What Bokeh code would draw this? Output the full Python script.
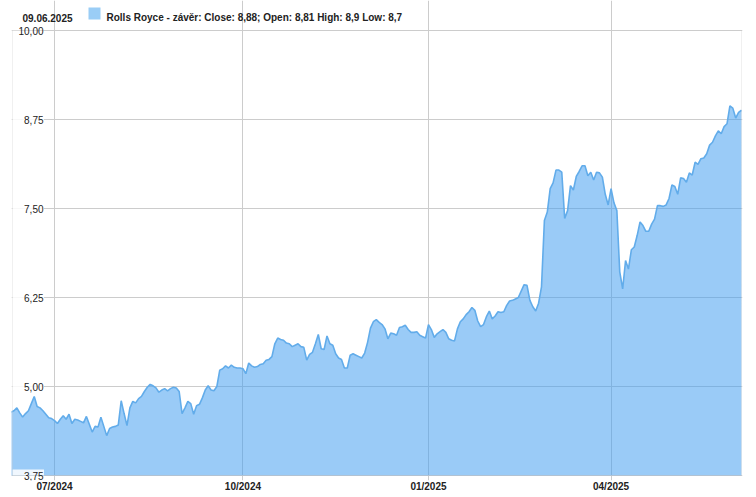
import numpy as np
import pandas as pd
from bokeh.plotting import figure
from bokeh.models import Range1d, FixedTicker, Grid, Label, BoxAnnotation, ColumnDataSource
from bokeh.embed import file_html
from bokeh.resources import INLINE

# ---- data -------------------------------------------------------------
holidays = ["2024-08-26", "2024-12-25", "2024-12-26", "2025-01-01",
            "2025-04-18", "2025-04-21", "2025-05-05", "2025-05-26"]

close = [
    4.64, 4.66, 4.70, 4.63, 4.57, 4.62, 4.66, 4.76, 4.86, 4.72,
    4.70, 4.66, 4.61, 4.56, 4.55, 4.52, 4.48, 4.54, 4.59, 4.54,
    4.61, 4.48, 4.54, 4.53, 4.51, 4.49, 4.58, 4.47, 4.36, 4.44,
    4.43, 4.57, 4.44, 4.31, 4.41, 4.43, 4.44, 4.46, 4.80, 4.62,
    4.45, 4.70, 4.79, 4.77, 4.83, 4.86, 4.93, 4.99, 5.03, 5.01,
    4.98, 4.92, 4.95, 4.97, 4.94, 4.97, 4.99, 4.98, 4.93, 4.62,
    4.70, 4.79, 4.76, 4.61, 4.73, 4.75, 4.84, 4.95, 5.01, 4.95,
    4.94, 5.00, 5.23, 5.25, 5.29, 5.26, 5.30, 5.27, 5.26, 5.26,
    5.25, 5.18, 5.33, 5.29, 5.27, 5.28, 5.31, 5.32, 5.37, 5.38,
    5.42, 5.60, 5.68, 5.66, 5.65, 5.61, 5.60, 5.56, 5.58, 5.60,
    5.56, 5.55, 5.37, 5.45, 5.48, 5.60, 5.73, 5.53, 5.52, 5.71,
    5.60, 5.58, 5.46, 5.40, 5.38, 5.26, 5.26, 5.44, 5.46, 5.44,
    5.42, 5.40, 5.47, 5.62, 5.82, 5.91, 5.94, 5.90, 5.87, 5.81,
    5.67, 5.75, 5.74, 5.72, 5.83, 5.84, 5.86, 5.80, 5.76, 5.76,
    5.77, 5.72, 5.70, 5.68, 5.87, 5.80, 5.69, 5.74, 5.77, 5.80,
    5.76, 5.67, 5.65, 5.64, 5.81, 5.91, 5.95, 6.01, 6.05, 6.11,
    6.07, 5.92, 5.84, 5.87, 5.98, 6.06, 5.95, 5.99, 6.05, 6.04,
    6.05, 6.14, 6.20, 6.21, 6.23, 6.25, 6.34, 6.43, 6.42, 6.21,
    6.12, 6.06, 6.17, 6.40, 7.33, 7.45, 7.78, 7.86, 8.04, 8.04,
    8.01, 7.36, 7.47, 7.82, 7.76, 7.95, 8.02, 8.10, 8.10, 7.96,
    8.01, 7.90, 8.01, 8.00, 7.94, 7.70, 7.55, 7.78, 7.58, 7.47,
    6.61, 6.37, 6.77, 6.65, 6.92, 6.96, 7.12, 7.31, 7.26, 7.18,
    7.18, 7.28, 7.35, 7.54, 7.54, 7.53, 7.55, 7.64, 7.83, 7.81,
    7.70, 7.93, 7.92, 7.87, 8.00, 7.97, 8.15, 8.12, 8.20, 8.21,
    8.27, 8.39, 8.43, 8.52, 8.59, 8.55, 8.65, 8.69, 8.94, 8.91,
    8.77, 8.85, 8.88,
]

y_ticks = [3.75, 5.0, 6.25, 7.5, 8.75, 10.0]
y_tick_labels = ["3,75", "5,00", "6,25", "7,50", "8,75", "10,00"]
x_tick_months = ["2024-07", "2024-10", "2025-01", "2025-04"]
x_tick_labels = ["07/2024", "10/2024", "01/2025", "04/2025"]
header_date = "09.06.2025"
series_label = "Rolls Royce - závěr: Close: 8,88; Open: 8,81 High: 8,9 Low: 8,7"

# ---- trading-day axis ---------------------------------------------------
days = pd.bdate_range("2024-06-10", "2025-06-09")
days = days[~days.isin(pd.to_datetime(holidays))]
n = min(len(days), len(close))
days = days[:n]
close = close[:n]
idx = list(range(n))
months = list(days.strftime("%Y-%m"))
tick_pos = [months.index(m) for m in x_tick_months]

# ---- layout constants ---------------------------------------------------
W, H = 750, 495
BL, BR, BT, BB = 11, 8, 0, 15
frame_w = W - BL - BR
frame_h = H - BT - BB
x_start, x_end = 0.5, n - 1                     # plotted data span
y_lo, y_hi = y_ticks[0], y_ticks[-1]
px_x = (frame_w - 2) / (x_end - x_start)        # 1px spare each side for the border
px_y = (frame_h - 30 - 5) / (y_hi - y_lo)       # 30px header room, 5px below
xr = Range1d(x_start - 1 / px_x, x_end + 1 / px_x)
yr = Range1d(y_lo - 5 / px_y, y_hi + 30 / px_y)

FONT = "Liberation Sans"
TXT = "#222222"
GRID = "#cccccc"
FILL = "#3d9cf0"
LINE = "#62acea"

p = figure(width=W, height=H, output_backend="svg", toolbar_location=None,
           x_range=xr, y_range=yr, y_axis_location=None,
           min_border_left=BL, min_border_right=BR, min_border_top=BT, min_border_bottom=BB)
p.background_fill_color = "white"
p.border_fill_color = "white"
p.outline_line_color = None

# grids (limited to the data box)
p.ygrid.visible = False
p.add_layout(Grid(dimension=1, ticker=FixedTicker(ticks=y_ticks), grid_line_color=GRID,
                  bounds=(x_start, x_end)))
p.xgrid.ticker = FixedTicker(ticks=tick_pos)
p.xgrid.grid_line_color = GRID
p.xgrid.bounds = (y_lo, y_hi)

# x axis
ax = p.xaxis[0]
ax.ticker = FixedTicker(ticks=tick_pos)
ax.major_label_overrides = {t: l for t, l in zip(tick_pos, x_tick_labels)}
ax.axis_line_color = None
ax.major_tick_line_color = None
ax.minor_tick_line_color = None
ax.major_tick_out = 0
ax.major_tick_in = 0
ax.major_label_standoff = 0
ax.major_label_text_font = FONT
ax.major_label_text_font_style = "bold"
ax.major_label_text_font_size = "10px"
ax.major_label_text_color = TXT

# area + line
src = ColumnDataSource(dict(x=idx, y=close, base=[y_lo] * n))
p.varea(x="x", y1="base", y2="y", source=src, fill_color=FILL, fill_alpha=0.52)
p.line(x="x", y="y", source=src, line_color=LINE, line_width=1.6)

# border of the data box
p.add_layout(BoxAnnotation(left=x_start, right=x_end, bottom=y_lo, top=y_hi,
                           fill_alpha=0, line_color=GRID, line_width=1))

# y tick labels inside the plot with white boxes
box_right = x_start + 31.5 / px_x
hh = 6 / px_y
p.quad(left=[x_start] * len(y_ticks), right=[box_right] * len(y_ticks),
       bottom=[max(t - hh, y_lo) for t in y_ticks], top=[min(t + hh, y_hi) for t in y_ticks],
       fill_color="white", fill_alpha=0.85, line_color=None)
for t, l in zip(y_ticks, y_tick_labels):
    p.add_layout(Label(x=32, x_units="screen", y=t, y_units="data", text=l,
                       text_align="right", text_baseline="middle",
                       text_font=FONT, text_font_size="10px", text_color=TXT))

# header (inside the top strip of the frame)
top_px = frame_h  # screen y of the frame top, measured from frame bottom
p.add_layout(Label(x=11, y=top_px - 17, x_units="screen", y_units="screen",
                   text=header_date, text_align="left", text_baseline="alphabetic",
                   text_font=FONT, text_font_style="bold", text_font_size="10px",
                   text_color=TXT))
p.add_layout(BoxAnnotation(left=77, right=89, top=top_px - 7, bottom=top_px - 19,
                           left_units="screen", right_units="screen",
                           top_units="screen", bottom_units="screen",
                           fill_color="#9acdf6", fill_alpha=1.0, line_color=None))
p.add_layout(Label(x=95, y=top_px - 17, x_units="screen", y_units="screen",
                   text=series_label, text_align="left", text_baseline="alphabetic",
                   text_font=FONT, text_font_style="bold", text_font_size="10px",
                   text_color=TXT))

open("out.html", "w").write(file_html(p, INLINE))
